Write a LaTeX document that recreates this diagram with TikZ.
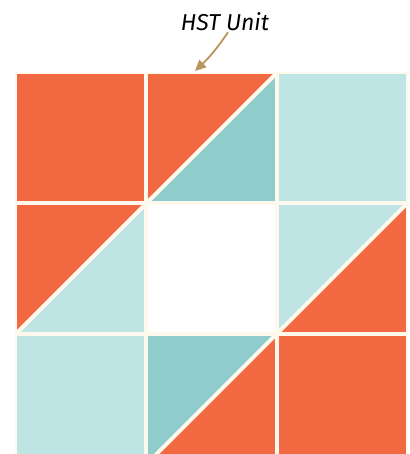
\documentclass[tikz,border=0pt]{standalone}
\usepackage{fontspec}
\newfontfamily\handfont{Fira Sans}
\usetikzlibrary{arrows.meta, positioning}
\definecolor{quiltorange}{HTML}{F26841}
\definecolor{quiltaqua}{HTML}{BFE4E4}
\definecolor{quiltteal}{HTML}{8ECDCB}
\definecolor{seam}{HTML}{FFF8EC}
\definecolor{pointer}{HTML}{B8965A}
\tikzset{
  seamline/.style={draw=seam, line width=4pt},
  edgeline/.style={draw=seam, line width=1.5pt},
  tag/.style={font=\handfont\itshape\fontsize{23}{23}\selectfont, inner sep=0pt},
  pointerarrow/.style={draw=pointer, line width=1.8pt,
                       -{Triangle[length=11pt, width=10pt]}},
}

\begin{document}
\begin{tikzpicture}[x=1pt, y=-1pt]
  \useasboundingbox (0,0) rectangle (409,454);
  \clip (0,0) rectangle (409,454);

  % whole squares
  \fill[quiltorange] (16,73) rectangle (146.4,203.4);
  \fill[quiltaqua] (276.8,73) rectangle (407.2,203.4);
  \fill[white] (146.4,203.4) rectangle (276.8,333.8);
  \fill[quiltaqua] (16,333.8) rectangle (146.4,464.2);
  \fill[quiltorange] (276.8,333.8) rectangle (407.2,464.2);

  % half square triangles
  \foreach \c/\r/\up/\lo in {1/0/quiltorange/quiltteal,
                             0/1/quiltorange/quiltaqua,
                             2/1/quiltaqua/quiltorange,
                             1/2/quiltteal/quiltorange}{
    \begin{scope}[shift={(16+130.4*\c, 73+130.4*\r)}]
      \fill[\up] (0,0) -- (130.4,0) -- (0,130.4) -- cycle;
      \fill[\lo] (130.4,0) -- (130.4,130.4) -- (0,130.4) -- cycle;
      \draw[seamline] (0,130.4) -- (130.4,0);
    \end{scope}
  }

  % seams
  \foreach \k in {146.4, 276.8}
    \draw[seamline] (\k,73) -- (\k,464);
  \foreach \k in {203.4, 333.8}
    \draw[seamline] (16,\k) -- (407.2,\k);
  \draw[edgeline] (16,464) -- (16,73) -- (407.2,73) -- (407.2,464);

  % label
  \node[tag] (hst) at (225,22) {HST Unit};
  \coordinate (hsttip) at (195,71);
  \draw[pointerarrow] ([xshift=3pt, yshift=-1pt]hst.south) to[bend left=6] (hsttip);
\end{tikzpicture}
\end{document}
